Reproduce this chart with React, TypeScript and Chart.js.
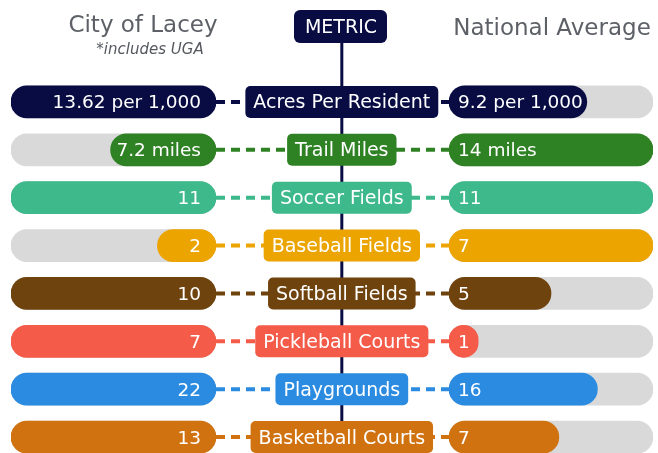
import React, { useEffect, useRef } from "react";
import { Chart, registerables } from "chart.js";

Chart.register(...registerables);

const metrics = [
  "Acres Per Resident",
  "Trail Miles",
  "Soccer Fields",
  "Baseball Fields",
  "Softball Fields",
  "Pickleball Courts",
  "Playgrounds",
  "Basketball Courts",
];
const laceyValues = [13.62, 7.2, 11, 2, 10, 7, 22, 13];
const nationalValues = [9.2, 14, 11, 7, 5, 1, 16, 7];
const laceyLabels = ["13.62 per 1,000", "7.2 miles", "11", "2", "10", "7", "22", "13"];
const nationalLabels = ["9.2 per 1,000", "14 miles", "11", "7", "5", "1", "16", "7"];
const rowColors = ["#080c43", "#2e8224", "#3db98c", "#eba400", "#6f430d", "#f45b49", "#2a8be0", "#d17210"];

const NAVY = "#080c43";
const TRACK = "#d9d9d9";
const TITLE_GREY = "#5d6167";
const FONT = "'DejaVu Sans', sans-serif";

const laceyShare = laceyValues.map((v, i) => v / Math.max(v, nationalValues[i]));
const nationalShare = nationalValues.map((v, i) => v / Math.max(v, laceyValues[i]));
const fullTrack = metrics.map(() => 1);

function roundRect(ctx: CanvasRenderingContext2D, x: number, y: number, w: number, h: number, r: number) {
  ctx.beginPath();
  ctx.moveTo(x + r, y);
  ctx.lineTo(x + w - r, y);
  ctx.arcTo(x + w, y, x + w, y + r, r);
  ctx.lineTo(x + w, y + h - r);
  ctx.arcTo(x + w, y + h, x + w - r, y + h, r);
  ctx.lineTo(x + r, y + h);
  ctx.arcTo(x, y + h, x, y + h - r, r);
  ctx.lineTo(x, y + r);
  ctx.arcTo(x, y, x + r, y, r);
  ctx.closePath();
}

function centerX(chart: any) {
  const g = chart.scales.xGap;
  return g.left + g.width * 0.54;
}

const overlayPlugin = {
  id: "overlay",
  beforeDatasetsDraw(chart: any) {
    const ctx: CanvasRenderingContext2D = chart.ctx;
    const xL = chart.scales.xL;
    const xR = chart.scales.xR;
    const y = chart.scales.y;
    const cx = centerX(chart);
    ctx.save();
    ctx.strokeStyle = NAVY;
    ctx.lineWidth = 3;
    ctx.beginPath();
    ctx.moveTo(cx, 40);
    ctx.lineTo(cx, chart.height);
    ctx.stroke();
    ctx.setLineDash([9, 6]);
    ctx.lineWidth = 4;
    metrics.forEach((_, i) => {
      const yy = y.getPixelForValue(i);
      ctx.strokeStyle = rowColors[i];
      ctx.beginPath();
      ctx.moveTo(xL.getPixelForValue(0), yy);
      ctx.lineTo(xR.getPixelForValue(0), yy);
      ctx.stroke();
    });
    ctx.restore();
  },
  afterDatasetsDraw(chart: any) {
    const ctx: CanvasRenderingContext2D = chart.ctx;
    const xL = chart.scales.xL;
    const xR = chart.scales.xR;
    const y = chart.scales.y;
    const cx = centerX(chart);
    ctx.save();
    // headers
    ctx.fillStyle = TITLE_GREY;
    ctx.textAlign = "center";
    ctx.textBaseline = "alphabetic";
    ctx.font = `23px ${FONT}`;
    ctx.fillText("City of Lacey", 143, 32);
    ctx.fillText("National Average", 552, 35);
    ctx.font = `italic 15px ${FONT}`;
    ctx.fillStyle = "#55595f";
    ctx.fillText("*includes UGA", 150, 54);
    // metric box
    ctx.fillStyle = NAVY;
    roundRect(ctx, 294, 10, 93, 33, 6);
    ctx.fill();
    ctx.fillStyle = "#ffffff";
    ctx.font = `19px ${FONT}`;
    ctx.fillText("METRIC", 341, 33);

    metrics.forEach((m, i) => {
      const yy = y.getPixelForValue(i);
      ctx.font = `19px ${FONT}`;
      const w = ctx.measureText(m).width + 16;
      ctx.fillStyle = rowColors[i];
      roundRect(ctx, cx - w / 2, yy - 16, w, 32, 5);
      ctx.fill();
      ctx.fillStyle = "#ffffff";
      ctx.textAlign = "center";
      ctx.fillText(m, cx, yy + 6.5);
      ctx.font = `18.5px ${FONT}`;
      ctx.textAlign = "right";
      ctx.fillText(laceyLabels[i], xL.getPixelForValue(0) - 15, yy + 6.5);
      ctx.textAlign = "left";
      ctx.fillText(nationalLabels[i], xR.getPixelForValue(0) + 9, yy + 6.5);
    });
    ctx.restore();
  },
};

export default function App() {
  const canvasRef = useRef<HTMLCanvasElement | null>(null);

  useEffect(() => {
    if (!canvasRef.current) return;
    const barCommon = {
      grouped: false,
      barThickness: 32,
      borderRadius: 16,
      borderSkipped: false as const,
    };
    const chart = new Chart(canvasRef.current, {
      type: "bar",
      data: {
        labels: metrics,
        datasets: [
          { label: "City of Lacey", data: laceyShare, xAxisID: "xL", backgroundColor: rowColors, order: 0, ...barCommon },
          { label: "Lacey track", data: fullTrack, xAxisID: "xL", backgroundColor: TRACK, order: 1, ...barCommon },
          { label: "National Average", data: nationalShare, xAxisID: "xR", backgroundColor: rowColors, order: 0, ...barCommon },
          { label: "National track", data: fullTrack, xAxisID: "xR", backgroundColor: TRACK, order: 1, ...barCommon },
        ],
      } as any,
      options: {
        indexAxis: "y",
        animation: false,
        responsive: true,
        maintainAspectRatio: false,
        layout: { padding: { left: 11, right: 5, top: 78, bottom: 0 } },
        scales: {
          y: { type: "category", display: false, offset: true },
          xL: { type: "linear", position: "bottom", stack: "row", stackWeight: 205, min: 0, max: 1, reverse: true, display: false },
          xGap: { type: "linear", position: "bottom", stack: "row", stackWeight: 233, min: 0, max: 1, display: false },
          xR: { type: "linear", position: "bottom", stack: "row", stackWeight: 204, min: 0, max: 1, display: false },
        } as any,
        plugins: { legend: { display: false }, tooltip: { enabled: false } },
      },
      plugins: [overlayPlugin],
    });
    return () => chart.destroy();
  }, []);

  return (
    <div style={{ position: "fixed", left: 0, top: 0, width: 658, height: 461, background: "#ffffff" }}>
      <canvas ref={canvasRef} />
    </div>
  );
}
